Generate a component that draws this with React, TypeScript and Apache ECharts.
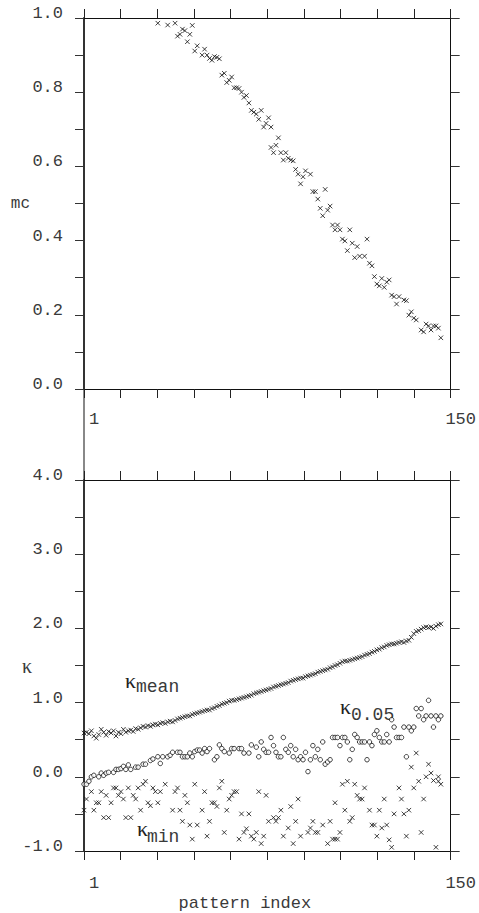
import React, { useEffect, useRef } from "react";
import * as echarts from "echarts";

// ---------- data ----------
const X_TICKS = [1, 15.9, 30.8, 45.7, 60.6, 75.5, 90.4, 105.3, 120.2, 135.1, 150];
const X_LABELS = [1, 150];

// mc per pattern index (points above 1.0 fall outside the frame)
const MC: [number, number][] = [
  [31, 0.986], [35, 0.981], [38, 0.986], [39, 0.951], [40, 0.956], [41, 0.970], [42, 0.966], [43, 0.936],
  [44, 0.956], [45, 0.980], [46, 0.911], [47, 0.925], [49, 0.900], [50, 0.916], [51, 0.900], [52, 0.891],
  [53, 0.886], [54, 0.896], [55, 0.894], [56, 0.890], [57, 0.846], [58, 0.851], [59, 0.826], [60, 0.832],
  [61, 0.841], [62, 0.812], [63, 0.812], [64, 0.810], [65, 0.800], [66, 0.786], [67, 0.791], [68, 0.771],
  [69, 0.751], [70, 0.746], [71, 0.741], [72, 0.727], [73, 0.751], [74, 0.706], [75, 0.716], [76, 0.731],
  [77, 0.706], [77, 0.651], [78, 0.637], [79, 0.657], [80, 0.677], [81, 0.637], [82, 0.617], [83, 0.637],
  [84, 0.622], [85, 0.617], [86, 0.615], [87, 0.592], [88, 0.579], [89, 0.553], [90, 0.572], [91, 0.588],
  [93, 0.579], [94, 0.532], [95, 0.532], [96, 0.512], [97, 0.487], [98, 0.467], [99, 0.538], [100, 0.482],
  [101, 0.493], [102, 0.442], [103, 0.429], [104, 0.442], [105, 0.429], [106, 0.404], [107, 0.399], [108, 0.373],
  [109, 0.429], [110, 0.393], [111, 0.354], [112, 0.384], [113, 0.358], [115, 0.358], [116, 0.404], [117, 0.339],
  [118, 0.332], [119, 0.303], [120, 0.283], [121, 0.278], [122, 0.298], [123, 0.274], [124, 0.288], [125, 0.294],
  [126, 0.253], [127, 0.249], [128, 0.229], [129, 0.249], [131, 0.240], [132, 0.238], [133, 0.199], [134, 0.208],
  [135, 0.191], [136, 0.186], [138, 0.159], [139, 0.154], [140, 0.175], [141, 0.170], [142, 0.159], [143, 0.170],
  [144, 0.170], [145, 0.164], [146, 0.138],
];

// kappa mean, indices 1..146
const K_MEAN = [
  0.59, 0.60, 0.58, 0.62, 0.55, 0.52, 0.57, 0.64, 0.60, 0.56,
  0.61, 0.59, 0.62, 0.55, 0.60, 0.58, 0.64, 0.60, 0.62, 0.63,
  0.61, 0.65, 0.64, 0.66, 0.68, 0.67, 0.69, 0.68, 0.70, 0.71,
  0.70, 0.72, 0.73, 0.72, 0.74, 0.75, 0.74, 0.76, 0.78, 0.79,
  0.80, 0.81, 0.82, 0.82, 0.84, 0.85, 0.86, 0.87, 0.88, 0.89,
  0.90, 0.90, 0.92, 0.93, 0.95, 0.96, 0.98, 0.99, 1.00, 1.02,
  1.03, 1.03, 1.04, 1.05, 1.06, 1.07, 1.08, 1.09, 1.10, 1.12,
  1.13, 1.14, 1.15, 1.16, 1.17, 1.18, 1.19, 1.21, 1.22, 1.23,
  1.24, 1.25, 1.26, 1.27, 1.29, 1.30, 1.31, 1.32, 1.33, 1.33,
  1.35, 1.36, 1.37, 1.38, 1.39, 1.41, 1.42, 1.43, 1.44, 1.45,
  1.47, 1.48, 1.50, 1.51, 1.53, 1.55, 1.56, 1.56, 1.57, 1.58,
  1.59, 1.60, 1.61, 1.62, 1.64, 1.65, 1.66, 1.68, 1.69, 1.71,
  1.72, 1.74, 1.75, 1.77, 1.78, 1.79, 1.79, 1.80, 1.81, 1.82,
  1.81, 1.83, 1.84, 1.88, 1.93, 1.96, 1.97, 1.99, 2.01, 2.02,
  2.01, 2.02, 2.00, 2.03, 2.05, 2.06,
];

// kappa 0.05 quantile
const K_05: [number, number][] = [
  [1, -0.10], [2, -0.10], [3, -0.06], [4, 0.00], [5, 0.02], [7, 0.00], [8, 0.05], [9, 0.02], [10, 0.05],
  [11, 0.06], [13, 0.06], [14, 0.10], [15, 0.10], [16, 0.11], [17, 0.14], [18, 0.10], [19, 0.16], [20, 0.10],
  [22, 0.13], [23, 0.13], [25, 0.17], [26, 0.17], [28, 0.22], [29, 0.24], [31, 0.27], [32, 0.18], [33, 0.27],
  [35, 0.27], [36, 0.29], [37, 0.33], [39, 0.33], [40, 0.33], [41, 0.27], [42, 0.27], [43, 0.27], [44, 0.32],
  [45, 0.27], [46, 0.34], [47, 0.36], [48, 0.36], [49, 0.32], [50, 0.38], [51, 0.34], [52, 0.38], [54, 0.23],
  [55, 0.27], [56, 0.43], [57, 0.38], [58, 0.34], [60, 0.32], [61, 0.38], [62, 0.38], [64, 0.38], [65, 0.38],
  [66, 0.32], [68, 0.32], [69, 0.43], [71, 0.40], [72, 0.27], [73, 0.47], [74, 0.37], [75, 0.33], [76, 0.33],
  [77, 0.53], [78, 0.42], [79, 0.33], [80, 0.27], [81, 0.27], [82, 0.53], [83, 0.37], [84, 0.33], [85, 0.42],
  [86, 0.27], [87, 0.37], [88, 0.23], [89, 0.27], [90, 0.23], [91, 0.33], [92, 0.07], [93, 0.23], [94, 0.42],
  [95, 0.27], [96, 0.37], [97, 0.23], [98, 0.47], [99, 0.17], [100, 0.20], [101, 0.23], [102, 0.53], [103, 0.53],
  [104, 0.53], [105, 0.42], [106, 0.53], [107, 0.53], [108, 0.47], [109, 0.23], [110, 0.37], [111, 0.57],
  [112, 0.53], [113, 0.47], [114, 0.47], [115, 0.47], [116, 0.23], [117, 0.47], [118, 0.42], [119, 0.57],
  [120, 0.62], [121, 0.53], [122, 0.47], [123, 0.47], [124, 0.57], [125, 0.47], [126, 0.77], [127, 0.67],
  [128, 0.53], [129, 0.53], [130, 0.53], [131, 0.67], [132, 0.27], [133, 0.67], [134, 0.62], [135, 0.67],
  [136, 0.92], [137, 0.82], [138, 0.92], [139, 0.77], [140, 0.82], [141, 1.03], [142, 0.82], [143, 0.67],
  [144, 0.82], [145, 0.77], [146, 0.82],
];

// kappa min
const K_MIN: [number, number][] = [
  [1, -0.45], [2, -0.30], [4, -0.20], [5, -0.45], [6, -0.35], [7, -0.35], [8, -0.20], [9, -0.55], [10, -0.25],
  [11, -0.55], [12, -0.35], [13, -0.15], [14, -0.15], [15, -0.25], [16, -0.20], [17, -0.30], [18, -0.55],
  [19, -0.15], [20, -0.55], [21, -0.25], [22, -0.30], [23, -0.15], [24, -0.45], [25, -0.10], [26, -0.06],
  [27, -0.35], [28, -0.39], [29, -0.15], [30, -0.20], [31, -0.35], [32, -0.20], [34, -0.10], [37, -0.45],
  [38, -0.20], [39, -0.15], [40, -0.45], [41, -0.60], [42, -0.25], [43, -0.35], [44, -0.65], [45, -0.84],
  [46, -0.10], [47, -0.65], [49, -0.45], [50, -0.20], [51, -0.80], [52, -0.60], [53, -0.35], [54, -0.35],
  [55, -0.40], [56, -0.15], [57, -0.06], [58, -0.75], [59, -0.45], [60, -0.30], [61, -0.25], [62, -0.20],
  [63, -0.20], [64, -0.84], [65, -0.50], [66, -0.75], [67, -0.70], [68, -0.50], [69, -0.80], [70, -0.84],
  [71, -0.75], [72, -0.20], [73, -0.90], [74, -0.80], [75, -0.25], [76, -0.60], [78, -0.55], [79, -0.60],
  [80, -0.55], [81, -0.45], [82, -0.80], [84, -0.69], [85, -0.40], [86, -0.90], [87, -0.60], [88, -0.30],
  [89, -0.80], [92, -0.75], [93, -0.69], [94, -0.60], [95, -0.75], [96, -0.75], [98, -0.65], [100, -0.90],
  [101, -0.60], [102, -0.84], [103, -0.84], [103, -0.35], [104, -0.84], [105, -0.75], [106, -0.10],
  [107, -0.45], [108, -0.06], [109, -0.60], [110, -0.55], [111, -0.10], [112, -0.25], [113, -0.30],
  [114, -0.30], [115, -0.15], [117, -0.45], [118, -0.65], [119, -0.65], [120, -0.80], [121, -0.45],
  [122, -0.69], [123, -0.30], [124, -0.65], [125, -0.85], [126, -0.95], [127, -0.50], [129, -0.15],
  [130, -0.30], [131, -0.50], [132, -0.80], [133, -0.45], [134, 0.13], [135, -0.15], [136, 0.32],
  [137, -0.06], [138, -0.75], [139, -0.30], [140, 0.00], [141, 0.17], [142, 0.05], [143, -0.05],
  [144, -0.95], [145, 0.00], [145, -0.06], [146, -0.10],
];

// ---------- styling ----------
const MONO = "'Liberation Mono', 'DejaVu Sans Mono', monospace";
const SERIF = "'Liberation Serif', 'DejaVu Serif', serif";
const CROSS = "path://M0,0L10,10M10,0L0,10";
const TXT = "#3a3a3a";

function xAxes(gridIndex: number, name?: string) {
  const common = {
    gridIndex,
    type: "value",
    min: 1,
    max: 150,
    splitLine: { show: false },
    axisLine: { show: true, onZero: false, lineStyle: { color: "#111", width: 1 } },
    axisTick: { show: true, inside: false, length: 9, customValues: X_TICKS, lineStyle: { color: "#222", width: 1 } },
  };
  return [
    {
      ...common,
      position: "bottom",
      axisLabel: {
        show: true,
        customValues: X_LABELS,
        margin: gridIndex === 0 ? 22 : 24,
        fontFamily: MONO,
        fontSize: 17,
        color: TXT,
        padding: [0, 0, 0, 20],
      },
      ...(name
        ? {
            name,
            nameLocation: "middle",
            nameGap: 44,
            nameMoveOverlap: false,
            nameTextStyle: { fontFamily: MONO, fontSize: 17, color: TXT, padding: [0, 45, 0, 0] },
          }
        : {}),
    },
    { ...common, position: "top", axisLabel: { show: false } },
  ];
}

function yAxes(gridIndex: number, min: number, max: number, interval: number, fmt: (v: number) => string, name: string, nameFont: string, nameSize: number, nameGap: number) {
  const common = {
    gridIndex,
    type: "value",
    min,
    max,
    interval,
    splitLine: { show: false },
  };
  return [
    {
      ...common,
      position: "left",
      axisLine: { show: true, onZero: false, lineStyle: { color: "#333", width: 2 } },
      axisTick: { show: true, inside: false, length: 9, lineStyle: { color: "#333", width: 1 } },
      axisLabel: {
        show: true,
        margin: 21,
        fontFamily: MONO,
        fontSize: 17,
        color: TXT,
        formatter: fmt,
        verticalAlign: "bottom",
        lineHeight: 9,
      },
      name,
      nameLocation: "middle",
      nameRotate: 0,
      nameGap,
      nameMoveOverlap: false,
      nameTextStyle: { fontFamily: nameFont, fontSize: nameSize, color: TXT },
    },
    {
      ...common,
      position: "right",
      axisLine: { show: true, onZero: false, lineStyle: { color: "#111", width: 1 } },
      axisTick: { show: true, inside: false, length: 9, lineStyle: { color: "#333", width: 1 } },
      axisLabel: { show: false },
    },
  ];
}

const crossStyle = { color: "rgba(0,0,0,0)", borderColor: "#111", borderWidth: 1 };

export default function App() {
  const ref = useRef<HTMLDivElement>(null);
  useEffect(() => {
    document.body.style.margin = "0";
    if (!ref.current) return;
    const chart = echarts.init(ref.current, undefined, { renderer: "svg" });
    const topFmt = (v: number) => (Math.round(v * 10) % 2 === 0 ? v.toFixed(1) : "");
    const botFmt = (v: number) => (Math.abs(v - Math.round(v)) < 1e-6 ? v.toFixed(1) : "");
    const option: any = {
      animation: false,
      backgroundColor: "#fff",
      grid: [
        { left: 84, top: 18, width: 367, height: 371 },
        { left: 84, top: 480, width: 367, height: 371 },
      ],
      xAxis: [...xAxes(0), ...xAxes(1, "pattern index")],
      yAxis: [
        ...yAxes(0, 0, 1, 0.1, topFmt, "mc", MONO, 16, 54),
        ...yAxes(1, -1, 4, 0.5, botFmt, "κ", SERIF, 20, 52),
      ],
      series: [
        {
          type: "scatter",
          xAxisIndex: 0,
          yAxisIndex: 0,
          data: MC,
          symbol: CROSS,
          symbolSize: 4.5,
          itemStyle: crossStyle,
        },
        {
          type: "scatter",
          xAxisIndex: 2,
          yAxisIndex: 2,
          data: K_MEAN.map((v, i) => [i + 1, v]),
          symbol: CROSS,
          symbolSize: 4.5,
          itemStyle: crossStyle,
        },
        {
          type: "scatter",
          xAxisIndex: 2,
          yAxisIndex: 2,
          data: K_05,
          symbol: "circle",
          symbolSize: 4.5,
          itemStyle: { color: "#fff", borderColor: "#111", borderWidth: 1 },
        },
        {
          type: "scatter",
          xAxisIndex: 2,
          yAxisIndex: 2,
          data: K_MIN,
          symbol: CROSS,
          symbolSize: 4.5,
          itemStyle: crossStyle,
        },
      ],
      graphic: [
        { type: "line", shape: { x1: 84, y1: 390, x2: 84, y2: 480 }, style: { stroke: "#888", lineWidth: 2 } },
        { type: "text", x: 125, y: 680, style: { text: "κ", font: `22px ${SERIF}`, fill: "#222", verticalAlign: "middle" } },
        { type: "text", x: 136, y: 687, style: { text: "mean", font: `18px ${MONO}`, fill: TXT, verticalAlign: "middle" } },
        { type: "text", x: 340, y: 706, style: { text: "κ", font: `22px ${SERIF}`, fill: "#222", verticalAlign: "middle" } },
        { type: "text", x: 351, y: 715, style: { text: "0.05", font: `18px ${MONO}`, fill: TXT, verticalAlign: "middle" } },
        { type: "text", x: 137, y: 828, style: { text: "κ", font: `22px ${SERIF}`, fill: "#222", verticalAlign: "middle" } },
        { type: "text", x: 147, y: 837, style: { text: "min", font: `18px ${MONO}`, fill: TXT, verticalAlign: "middle" } },
      ],
    };
    chart.setOption(option);
    return () => chart.dispose();
  }, []);
  return <div ref={ref} style={{ width: 479, height: 913 }} />;
}
